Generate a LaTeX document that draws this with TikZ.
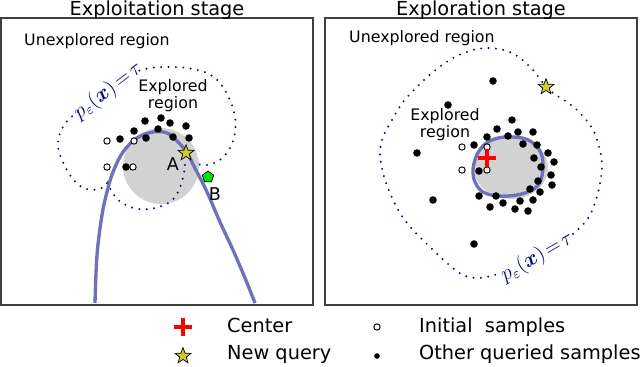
\documentclass[tikz,border=0pt]{standalone}
\usepackage{amsmath,amssymb}
\usepackage{fontspec}
\setmainfont{DejaVu Sans}
\usepackage{xcolor}
\usepackage{tikz}
\usetikzlibrary{shapes.geometric, positioning}
\definecolor{contourblue}{RGB}{10,10,128}
\definecolor{curveblue}{RGB}{112,112,190}
\definecolor{staryellow}{RGB}{205,205,50}
\definecolor{pentagreen}{RGB}{0,230,0}
\tikzset{
    panel/.style={draw=black!75, line width=0.6pt},
    title/.style={font=\fontsize{11}{13}\selectfont, anchor=base},
    region/.style={font=\fontsize{9}{8.5}\selectfont, align=center},
    legend/.style={font=\fontsize{11}{13}\selectfont, anchor=base west},
    sample/.style={circle, fill=black, inner sep=0pt, minimum size=4.3pt},
    initsample/.style={circle, draw=black, fill=white, line width=0.55pt, inner sep=0pt, minimum size=3.6pt},
    query/.style={star, star points=5, star point ratio=2.4, draw=black, fill=staryellow,
        line width=0.4pt, inner sep=0pt, minimum size=9.5pt},
    newpt/.style={regular polygon, regular polygon sides=5, draw=black, fill=pentagreen,
        line width=0.4pt, inner sep=0pt, minimum size=6.8pt},
    centermark/.style={rectangle, inner sep=0pt, minimum size=10pt,
        path picture={\draw[red, line width=2pt]
            (path picture bounding box.north) -- (path picture bounding box.south)
            (path picture bounding box.west) -- (path picture bounding box.east);}},
    contour/.style={draw=contourblue, line width=1.25pt, dash pattern=on 0pt off 4.2pt, line cap=round},
    boundary/.style={draw=curveblue, line width=1.9pt},
    level/.style={text=contourblue, font=\fontsize{12}{14}\selectfont, inner sep=0pt}
}

\begin{document}
\begin{tikzpicture}[x=0.02cm, y=-0.02cm]
    \useasboundingbox (0,0) rectangle (640,366);
    % panels
    \draw[panel] (1,18) rectangle (313,305);
    \draw[panel] (325,18) rectangle (637,305);
    \node (titleL) [title] at (157,15) {Exploitation stage};
    \node (titleR) [title] at (481,15) {Exploration stage};

    % exploitation stage
    \fill[gray!35] (161,166) circle [radius=38];
    \draw[contour] plot[smooth, tension=0.6] coordinates {(78,112) (68,120) (60,133) (58,147) (62,160) (70,175) (80,186) (92,190) (102,188) (108,182)};
    \draw[contour] plot[smooth, tension=0.6] coordinates {(108,182) (112,192) (122,203) (138,209) (155,208) (170,202) (178,192) (183,178) (185,165)};
    \draw[contour] plot[smooth, tension=0.6] coordinates {(185,165) (195,164) (207,165) (220,160) (230,148) (235,133) (235,117) (230,100) (220,83) (207,73) (187,68) (167,67) (150,68) (138,71)};
    \draw[boundary] plot[smooth, tension=0.6] coordinates {(95,303) (97,255) (102,215) (107,192) (113,172) (123,152) (137,138) (153,132) (167,133) (178,142) (187,153) (197,172) (207,192) (220,222) (233,250) (245,278) (255,303)};
    \node (levelL) [level, rotate=37] at (108,91) {$p_{\varepsilon}(\boldsymbol{x})\!=\!\tau$};
    \node (unexpL) [region, anchor=base west] at (18,45) {Unexplored region};
    \node (expL) [region] at (173,96) {Explored\\region};
    \foreach \px/\py in {145/121, 161/118, 170/123, 186/126, 134/131, 158/129, 120/139, 146/138, 173/137, 189/138, 126/167}
        \node[sample] at (\px,\py) {};
    \foreach \px/\py in {107/141, 134/141, 107/167, 133/167}
        \node[initsample] at (\px,\py) {};
    \node (ptA) [query] at (186,153) {};
    \node (labA) [font=\fontsize{10}{12}\selectfont, anchor=base] at (173,170) {A};
    \node (ptB) [newpt] at (208,177) {};
    \node (labB) [font=\fontsize{10}{12}\selectfont, anchor=base] at (215,200) {B};

    % exploration stage
    \fill[gray!35] (511,168) ellipse [x radius=37, y radius=31];
    \draw[contour] plot[smooth, tension=0.6] coordinates {(573,234) (587,220) (595,203) (600,183) (602,163) (598,143) (592,128) (580,113) (567,102) (553,93) (543,83) (533,70) (520,58) (507,51) (490,48) (473,50) (453,58) (433,72) (417,87) (403,102) (392,120) (383,137) (380,153) (383,173) (390,193) (400,213) (413,230) (430,247) (447,263) (463,275) (480,278) (498,274)};
    \draw[boundary] plot[smooth cycle, tension=0.6] coordinates {(473,170) (476,157) (482,147) (492,140) (505,137) (522,138) (533,143) (541,153) (543,167) (540,182) (532,190) (517,195) (498,196) (483,192) (475,182)};
    \node (levelR) [level, rotate=30] at (537,257) {$p_{\varepsilon}(\boldsymbol{x})\!=\!\tau$};
    \node (unexpR) [region, anchor=base west] at (343,42) {Unexplored region};
    \node (expR) [region] at (445,125) {Explored\\region};
    \foreach \px/\py in {493/81, 448/105, 417/153, 433/200, 474/244, 512/120, 497/129, 518/132, 533/132, 487/137, 508/136, 474/145, 523/144, 537/145, 548/153, 554/162, 534/158, 541/167, 551/175, 538/181, 552/185, 530/189, 540/192, 479/171, 479/196, 496/196, 503/203, 520/201, 533/200, 490/207, 515/209, 528/211}
        \node[sample] at (\px,\py) {};
    \foreach \px/\py in {462/147, 487/147, 462/170, 487/170}
        \node[initsample] at (\px,\py) {};
    \node (center) [centermark] at (487,158) {};
    \node (query) [query] at (546,87) {};

    % legend
    \node (keyC) [centermark] at (183,327) {};
    \node (txtC) [legend] at (221,332) {Center};
    \node (keyQ) [query] at (183,356) {};
    \node (txtQ) [legend] at (221,359) {New query};
    \node (keyI) [initsample] at (377,327) {};
    \node (txtI) [legend] at (413,332) {Initial\ \ samples};
    \node (keyO) [sample, minimum size=3.2pt] at (377,356) {};
    \node (txtO) [legend] at (413,359) {Other queried samples};
\end{tikzpicture}
\end{document}
